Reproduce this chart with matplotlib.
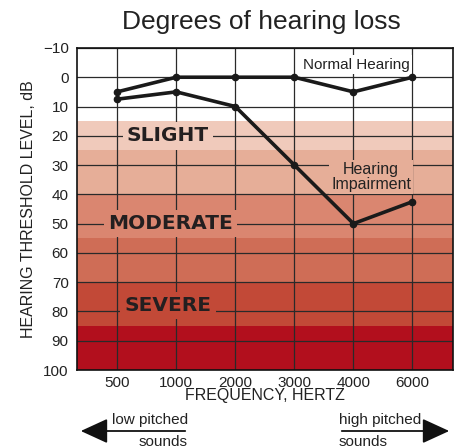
import matplotlib
matplotlib.use("Agg")
import matplotlib.pyplot as plt

# Data
freqs = ["500", "1000", "2000", "3000", "4000", "6000"]
normal = [5, 0, 0, 0, 5, 0]
impaired = [7.5, 5, 10, 30, 50, 42.5]
yticks = [-10, 0, 10, 20, 30, 40, 50, 60, 70, 80, 90, 100]
band_edges = [(15, 25), (25, 40), (40, 55), (55, 70), (70, 85), (85, 100)]
band_colors = ["#f0cabb", "#e6ae98", "#da8670", "#cf6d56", "#c24937", "#b20f1d"]
band_labels = [("SLIGHT", 20, 0.86), ("MODERATE", 50, 0.9), ("SEVERE", 78, 0.86)]

plt.rcParams['font.family'] = ['Liberation Sans', 'DejaVu Sans']

fig = plt.figure(figsize=(4.57, 4.48), dpi=100)
ax = fig.add_axes([0.1685, 0.174, 0.822, 0.719])

x = list(range(len(freqs)))
ax.set_xlim(-0.68, len(freqs) - 1 + 0.68)
ax.set_ylim(100, -10)

for (lo, hi), c in zip(band_edges, band_colors):
    ax.axhspan(lo, hi, color=c, lw=0, zorder=0)

for xi in x:
    ax.axvline(xi, color="#2a2a2a", lw=0.9, zorder=1)
for yv in yticks:
    ax.axhline(yv, color="#2a2a2a", lw=0.9, zorder=1)

ax.plot(x, normal, color="#1a1a1a", lw=2.6, marker="o", ms=4.5, zorder=4)
ax.plot(x, impaired, color="#1a1a1a", lw=2.6, marker="o", ms=4.5, zorder=4)

def band_color(v):
    for (lo, hi), c in zip(band_edges, band_colors):
        if lo <= v < hi:
            return c
    return "white"

for txt, yv, xv in band_labels:
    ax.text(xv, yv, txt, ha="center", va="center", fontsize=14.5, fontweight="bold",
            family="DejaVu Sans", color="#231f20", zorder=3,
            bbox=dict(facecolor=band_color(yv), edgecolor="none", pad=3))

ax.text(4.05, -4.3, "Normal Hearing", ha="center", va="center", fontsize=11,
        color="#222222", zorder=3,
        bbox=dict(facecolor="white", edgecolor="none", pad=1.5))
ax.text(4.3, 34, "Hearing\nImpairment", ha="center", va="center", fontsize=11.5,
        color="#222222", zorder=3, linespacing=1.0,
        bbox=dict(facecolor=band_color(34), edgecolor="none", pad=1.5))

ax.set_xticks(x)
ax.set_xticklabels(freqs)
ax.set_yticks(yticks)
ax.set_yticklabels([("\u2212" + str(-v)) if v < 0 else str(v) for v in yticks])
ax.tick_params(length=0, labelsize=11, colors="#222222", pad=6)
ax.tick_params(axis="x", pad=4)
for s in ax.spines.values():
    s.set_color("#111111")
    s.set_linewidth(1.2)

ax.set_xlabel("FREQUENCY, HERTZ", fontsize=11.5, color="#222222", labelpad=-1)
ax.set_ylabel("HEARING THRESHOLD LEVEL, dB", fontsize=11.5, color="#222222", labelpad=5)

fig.text(0.573, 0.951, "Degrees of hearing loss", ha="center", va="center",
         fontsize=19, color="#222222")

# Arrows
ay = 1 - 431 / 448
fig.add_artist(matplotlib.patches.FancyArrowPatch(
    (188 / 457, ay), (78 / 457, ay), transform=fig.transFigure,
    arrowstyle="-|>,head_length=1.2,head_width=0.55", mutation_scale=14,
    color="#111111", lw=1.3))
fig.add_artist(matplotlib.patches.FancyArrowPatch(
    (339 / 457, ay), (452 / 457, ay), transform=fig.transFigure,
    arrowstyle="-|>,head_length=1.2,head_width=0.55", mutation_scale=14,
    color="#111111", lw=1.3))
fig.text(188 / 457, ay + 0.01, "low pitched", ha="right", va="bottom", fontsize=11, color="#222222")
fig.text(188 / 457, ay - 0.008, "sounds", ha="right", va="top", fontsize=11, color="#222222")
fig.text(339 / 457, ay + 0.01, "high pitched", ha="left", va="bottom", fontsize=11, color="#222222")
fig.text(339 / 457, ay - 0.008, "sounds", ha="left", va="top", fontsize=11, color="#222222")

fig.savefig("out.png", dpi=100)
